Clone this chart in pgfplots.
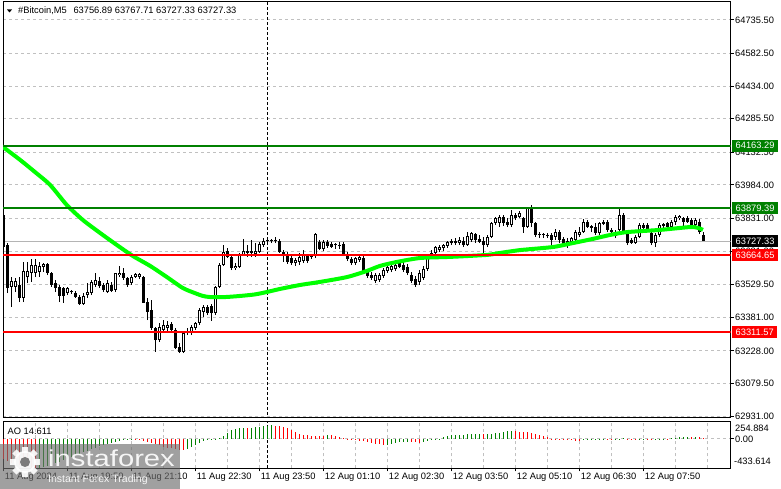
\documentclass[border=0pt]{standalone}
\usepackage{pgfplots}
\pgfplotsset{compat=1.18}
\usepackage{pgfplotstable}
\usepackage{fontspec}
\setmainfont{Liberation Sans}
\definecolor{gridgray}{RGB}{192,192,192}
\definecolor{pricegray}{RGB}{180,180,180}
\definecolor{lvlgreen}{RGB}{0,128,0}
\definecolor{lvlred}{RGB}{255,0,0}
\definecolor{malime}{RGB}{0,255,0}
\definecolor{wmgray}{RGB}{110,110,110}
\newcommand\lab{\fontsize{9.3}{11}\selectfont}

\pgfplotstableread{
k O H L C
-48 63847 63856 63687 63701
-47 63710 63719 63491 63514
-46 63519 63564 63428 63546
-45 63519 63560 63496 63546
-44 63528 63564 63450 63469
-43 63469 63633 63450 63592
-42 63564 63633 63537 63592
-41 63583 63647 63542 63619
-40 63583 63647 63564 63619
-39 63587 63633 63564 63615
-38 63610 63628 63587 63624
-37 63624 63628 63573 63583
-36 63583 63587 63519 63528
-35 63537 63551 63496 63514
-34 63519 63528 63450 63478
-33 63514 63519 63446 63478
-32 63491 63519 63482 63514
-31 63496 63505 63487 63501
-30 63491 63501 63469 63473
-29 63473 63482 63437 63441
-28 63441 63491 63437 63478
-27 63482 63537 63469 63496
-26 63491 63551 63482 63542
-25 63528 63583 63519 63551
-24 63546 63564 63514 63523
-23 63528 63537 63496 63505
-22 63496 63551 63491 63537
-21 63528 63542 63496 63501
-20 63505 63583 63496 63583
-19 63573 63615 63564 63583
-18 63583 63605 63551 63560
-17 63560 63564 63519 63528
-16 63537 63573 63528 63564
-15 63564 63583 63560 63578
-14 63564 63583 63555 63578
-13 63564 63569 63446 63446
-12 63450 63469 63368 63405
-11 63414 63460 63323 63332
-10 63332 63336 63223 63277
-9 63277 63355 63268 63336
-8 63323 63368 63314 63345
-7 63332 63364 63318 63345
-6 63350 63359 63314 63323
-5 63323 63332 63236 63241
-4 63245 63264 63218 63223
-3 63223 63314 63218 63309
-2 63309 63332 63300 63314
-1 63309 63345 63300 63336
0 63332 63359 63323 63355
1 63355 63423 63345 63414
2 63405 63437 63382 63428
3 63428 63437 63391 63400
4 63432 63441 63364 63400
5 63400 63523 63391 63519
6 63519 63628 63514 63619
7 63619 63710 63615 63678
8 63683 63697 63651 63656
9 63656 63665 63596 63605
10 63605 63628 63596 63615
11 63610 63674 63605 63665
12 63665 63738 63660 63683
13 63674 63710 63656 63683
14 63683 63733 63656 63674
15 63669 63719 63656 63683
16 63678 63724 63674 63715
17 63710 63742 63701 63728
18 63728 63742 63719 63733
19 63728 63738 63719 63733
20 63728 63747 63719 63733
21 63728 63738 63674 63678
22 63678 63687 63633 63669
23 63669 63678 63624 63633
24 63651 63669 63619 63628
25 63628 63651 63615 63642
26 63633 63674 63619 63656
27 63637 63687 63628 63669
28 63660 63669 63628 63637
29 63656 63665 63647 63660
30 63660 63765 63651 63760
31 63724 63733 63687 63692
32 63692 63733 63683 63724
33 63724 63733 63697 63706
34 63715 63724 63697 63701
35 63710 63719 63692 63715
36 63710 63724 63692 63706
37 63715 63724 63660 63669
38 63669 63678 63637 63647
39 63647 63656 63619 63628
40 63628 63656 63619 63651
41 63642 63665 63633 63656
42 63651 63665 63583 63592
43 63587 63596 63560 63569
44 63573 63587 63551 63560
45 63546 63583 63537 63573
46 63551 63583 63542 63573
47 63569 63605 63560 63596
48 63592 63619 63583 63610
49 63596 63624 63587 63615
50 63601 63628 63592 63619
51 63628 63642 63605 63610
52 63619 63633 63587 63596
53 63610 63624 63573 63583
54 63573 63587 63537 63546
55 63555 63569 63519 63528
56 63542 63596 63528 63583
57 63560 63615 63551 63601
58 63601 63665 63592 63656
59 63656 63687 63647 63674
60 63674 63706 63656 63701
61 63687 63710 63678 63701
62 63697 63715 63683 63710
63 63706 63728 63697 63724
64 63719 63738 63710 63728
65 63728 63742 63710 63719
66 63719 63747 63710 63733
67 63728 63747 63701 63710
68 63710 63769 63706 63751
69 63733 63769 63724 63765
70 63760 63765 63719 63733
71 63738 63756 63719 63724
72 63728 63747 63665 63710
73 63710 63756 63701 63747
74 63747 63815 63742 63811
75 63811 63838 63802 63833
76 63811 63847 63792 63838
77 63838 63847 63797 63811
78 63815 63833 63792 63802
79 63802 63870 63792 63847
80 63847 63856 63824 63833
81 63838 63865 63833 63856
82 63833 63838 63765 63792
83 63792 63879 63788 63879
84 63879 63893 63792 63811
85 63811 63815 63747 63756
86 63756 63769 63742 63760
87 63756 63765 63742 63760
88 63756 63765 63742 63751
89 63756 63765 63710 63733
90 63747 63783 63733 63769
91 63769 63779 63719 63733
92 63738 63747 63701 63710
93 63715 63742 63697 63728
94 63724 63747 63710 63742
95 63733 63779 63724 63769
96 63756 63792 63747 63769
97 63769 63829 63765 63815
98 63815 63824 63788 63792
99 63797 63802 63769 63788
100 63792 63811 63756 63765
101 63765 63815 63756 63811
102 63806 63824 63802 63815
103 63815 63824 63769 63779
104 63779 63788 63765 63769
105 63769 63779 63742 63751
106 63779 63879 63769 63847
107 63847 63856 63765 63765
108 63765 63769 63710 63719
109 63733 63742 63715 63719
110 63719 63756 63715 63747
111 63747 63811 63742 63802
112 63802 63811 63779 63788
113 63802 63811 63769 63779
114 63765 63769 63710 63719
115 63719 63765 63701 63756
116 63756 63811 63747 63802
117 63797 63811 63788 63806
118 63811 63815 63788 63792
119 63792 63824 63783 63815
120 63815 63847 63802 63838
121 63833 63847 63824 63843
122 63833 63838 63792 63815
123 63833 63843 63811 63815
124 63824 63833 63792 63802
125 63802 63833 63792 63824
126 63815 63829 63760 63769
127 63756.89 63767.71 63727.33 63727.33
}\candles

\pgfplotstableread{
k ma
-49.5 64170
-48.2 64157
-43.9 64098
-40.2 64043
-36.4 63984
-32.2 63892
-28.2 63824
-23.9 63765
-19.7 63710
-15.7 63660
-11.4 63615
-7.2 63564
-3.2 63514
-0.2 63491
1.8 63478
3.6 63473
7.3 63473
11.1 63478
14.8 63485
17.8 63496
21.1 63510
26.1 63528
31.1 63542
37.8 63564
42.8 63592
46.1 63615
50.3 63633
56.1 63651
63.6 63656
72.8 63665
76.1 63674
81.1 63687
89.3 63701
94.3 63719
99.3 63738
103.6 63756
107.8 63769
116.1 63779
123.6 63792
125.6 63788
126.8 63779
}\matab

\pgfplotstableread{
k g r
-48 nan -300
-47 nan -330
-46 nan -355
-45 nan -375
-44 nan -392
-43 nan -405
-42 nan -416
-41 nan -424
-40 nan -430
-39 -425 nan
-38 -412 nan
-37 -396 nan
-36 -378 nan
-35 -358 nan
-34 -337 nan
-33 -315 nan
-32 -292 nan
-31 -268 nan
-30 -244 nan
-29 -220 nan
-28 -196 nan
-27 -172 nan
-26 -150 nan
-25 -128 nan
-24 -107 nan
-23 -88 nan
-22 -70 nan
-21 -54 nan
-20 -40 nan
-19 -28 nan
-18 -18 nan
-17 -11 nan
-16 -7 nan
-15 nan -9
-14 nan -14
-13 nan -25
-12 nan -40
-11 nan -58
-10 nan -78
-9 nan -96
-8 nan -112
-7 nan -127
-6 nan -140
-5 nan -150
-4 nan -157
-3 nan -161
-2 -155 nan
-1 -124 nan
0 -84 nan
1 -59 nan
2 -35 nan
3 -20 nan
4 -10 nan
5 -4 nan
6 10 nan
7 40 nan
8 89 nan
9 129 nan
10 149 nan
11 164 nan
12 166 nan
13 nan 163
14 169 nan
15 178 nan
16 180 nan
17 188 nan
18 198 nan
19 200 nan
20 nan 197
21 nan 193
22 nan 178
23 nan 164
24 nan 134
25 nan 104
26 nan 79
27 nan 64
28 nan 55
29 nan 50
30 nan 49
31 nan 48
32 nan 40
33 60 nan
34 nan 55
35 nan 50
36 nan 30
37 nan 20
38 nan 5
39 nan -2
40 nan -10
41 nan -25
42 nan -35
43 nan -50
44 nan -55
45 nan -69
46 nan -74
47 nan -94
48 -84 nan
49 -74 nan
50 -60 nan
51 -50 nan
52 -45 nan
53 -42 nan
54 nan -45
55 nan -50
56 nan -55
57 -50 nan
58 -35 nan
59 -20 nan
60 -10 nan
61 5 nan
62 25 nan
63 40 nan
64 55 nan
65 60 nan
66 61 nan
67 65 nan
68 74 nan
69 75 nan
70 76 nan
71 79 nan
72 nan 69
73 70 nan
74 80 nan
75 85 nan
76 90 nan
77 100 nan
78 114 nan
79 119 nan
80 nan 114
81 nan 104
82 nan 103
83 nan 99
84 nan 89
85 nan 79
86 nan 64
87 nan 50
88 nan 25
89 nan 5
90 nan -5
91 nan -10
92 nan -15
93 nan -17
94 nan -20
95 nan -25
96 nan -35
97 -20 nan
98 -10 nan
99 -5 nan
100 -8 nan
101 -6 nan
102 -4 nan
103 nan -7
104 nan -9
105 -6 nan
106 5 nan
107 8 nan
108 nan 6
109 nan -5
110 nan -8
111 -6 nan
112 -4 nan
113 nan -7
114 nan -10
115 -8 nan
116 -5 nan
117 4 nan
118 nan 3
119 8 nan
120 18 nan
121 25 nan
122 28 nan
123 30 nan
124 nan 27
125 28 nan
126 nan 22
127 nan 14.611
}\aotab

\begin{document}
\begin{tikzpicture}[x=1pt,y=1pt]
\fill[white] (0,0) rectangle (781,489);

% ---------------- main price panel ----------------
\begin{axis}[
  at={(3pt,71pt)}, anchor=south west, scale only axis,
  width=727.5pt, height=416pt,
  xmin=-48.175, xmax=133.7, ymin=62921.9, ymax=64817.5,
  axis line style={black, line width=1pt},
  xtick=\empty,
  minor xtick={-40,-32,...,128},
  xminorgrids=true,
  ytick={62931,63079.5,63228,63381,63529.5,63681,63831,63984,64132.5,64285.5,64434,64582.5,64735.5},
  yticklabels={62931.00,63079.50,63228.00,63381.00,63529.50,63681.00,63831.00,63984.00,64132.50,64285.50,64434.00,64582.50,64735.50},
  ymajorgrids=true,
  ytick pos=right, yticklabel pos=right,
  tick align=outside, major tick length=3pt, minor tick length=0pt,
  tick style={black, line width=1pt},
  major grid style={gridgray, line width=1pt, dash pattern=on 3pt off 3pt},
  minor grid style={gridgray, line width=1pt, dash pattern=on 3pt off 3pt},
  yticklabel style={font=\lab, anchor=west, inner sep=0pt, xshift=1.5pt},
  /pgf/number format/assume math mode=true,
]
\addplot [pricegray, line width=1pt] coordinates {(-60,63727.33) (140,63727.33)};
\addplot [black, line width=1pt, dash pattern=on 3pt off 2pt] coordinates {(18,62800) (18,64900)};
% wicks
\addplot [black, line width=1pt, quiver={u=0, v={\thisrow{H}-\thisrow{L}}}] table [x=k, y=L] {\candles};
% bodies
\addplot [black, line width=3pt, quiver={u=0, v={abs(\thisrow{C}-\thisrow{O})}}] table [x=k, y expr={min(\thisrow{O},\thisrow{C})}] {\candles};
% hollow of bullish bodies
\addplot [white, line width=1pt, quiver={u=0, v={max(0,\thisrow{C}-\thisrow{O}-9.1)}}] table [x=k, y expr={\thisrow{O}+4.56}] {\candles};
% moving average
\addplot [malime, line width=4pt, smooth, tension=0.4] table [x=k, y=ma] {\matab};
% levels
\addplot [lvlgreen, line width=2pt] coordinates {(-60,64163.29) (140,64163.29)};
\addplot [lvlgreen, line width=2pt] coordinates {(-60,63879.39) (140,63879.39)};
\addplot [lvlred, line width=2pt] coordinates {(-60,63664.65) (140,63664.65)};
\addplot [lvlred, line width=2pt] coordinates {(-60,63311.57) (140,63311.57)};
\end{axis}

% ---------------- AO panel ----------------
\begin{axis}[
  at={(3pt,20.7pt)}, anchor=south west, scale only axis,
  width=727.5pt, height=46.6pt,
  xmin=-48.175, xmax=133.7, ymin=-433.614, ymax=254.884,
  axis line style={black, line width=1pt},
  xtick={-48,-32,...,112},
  xticklabels={11 Aug 2024,11 Aug 19:50,11 Aug 21:10,11 Aug 22:30,11 Aug 23:50,12 Aug 01:10,12 Aug 02:30,12 Aug 03:50,12 Aug 05:10,12 Aug 06:30,12 Aug 07:50},
  xtick pos=bottom,
  minor xtick={-40,-32,...,128},
  xminorgrids=true,
  ytick={0}, yticklabels={0.00},
  ymajorgrids=true,
  ytick pos=right, yticklabel pos=right,
  tick align=outside, major tick length=3pt, minor tick length=0pt,
  tick style={black, line width=1pt},
  major grid style={gridgray, line width=1pt, dash pattern=on 3pt off 3pt},
  minor grid style={gridgray, line width=1pt, dash pattern=on 3pt off 3pt},
  yticklabel style={font=\lab, anchor=west, inner sep=0pt, xshift=1.5pt},
  xticklabel style={font=\lab, anchor=north west, inner sep=0pt, xshift=1pt, yshift=-2pt},
  /pgf/number format/assume math mode=true,
]
\addplot [black, line width=1pt, dash pattern=on 3pt off 2pt] coordinates {(18,-500) (18,300)};
\addplot [ycomb, lvlgreen, line width=1pt] table [x=k, y=g] {\aotab};
\addplot [ycomb, lvlred, line width=1pt] table [x=k, y=r] {\aotab};
\end{axis}

% ---------------- labels ----------------
\node[fill=lvlgreen, text=white, font=\lab, anchor=west, inner xsep=3.5pt, inner ysep=0pt, minimum height=12pt] at (732,343.4) {64163.29};
\node[fill=lvlgreen, text=white, font=\lab, anchor=west, inner xsep=3.5pt, inner ysep=0pt, minimum height=12pt] at (732,281.1) {63879.39};
\node[fill=black, text=white, font=\lab, anchor=west, inner xsep=3.5pt, inner ysep=0pt, minimum height=12pt] at (732,247.8) {63727.33};
\node[fill=lvlred, text=white, font=\lab, anchor=west, inner xsep=3.5pt, inner ysep=0pt, minimum height=12pt] at (732,234.0) {63664.65};
\node[fill=lvlred, text=white, font=\lab, anchor=west, inner xsep=3.5pt, inner ysep=0pt, minimum height=12pt] at (732,156.5) {63311.57};

\fill[black] (7,479.5) -- (12,479.5) -- (9.5,476.5) -- cycle;
\node[font=\lab, anchor=base west, inner sep=0pt] at (18,475) {\#Bitcoin,M5};
\node[font=\lab, anchor=base west, inner sep=0pt] at (73.3,475) {63756.89 63767.71 63727.33 63727.33};

\node[font=\lab, anchor=base west, inner sep=0pt] at (7.5,54.4) {AO 14.611};
\node[font=\lab, anchor=west, inner sep=0pt] at (735,61) {254.884};
\node[font=\lab, anchor=west, inner sep=0pt] at (734,27.5) {-433.614};

% ---------------- watermark ----------------
\fill[wmgray, opacity=0.65] (0,0) rectangle (180,45);
\begin{scope}[shift={(25,27)}, opacity=0.9]
  \foreach \a in {0,45,...,315} { \fill[white, rotate=\a] (-3,9) rectangle (3,15); }
  \fill[white] (0,0) circle (11);
  \fill[wmgray] (0,0) circle (5);
\end{scope}
\node[text=white, opacity=0.9, anchor=base west, inner sep=0pt, font=\fontsize{23}{23}\selectfont] at (48,22) {\scalebox{1.27}[1]{instaforex}};
\node[text=white, opacity=0.9, anchor=base west, inner sep=0pt, font=\fontsize{10.5}{12}\selectfont] at (48,6) {Instant Forex Trading};

\pgfresetboundingbox
\useasboundingbox (0,0) rectangle (781,489);
\end{tikzpicture}
\end{document}
